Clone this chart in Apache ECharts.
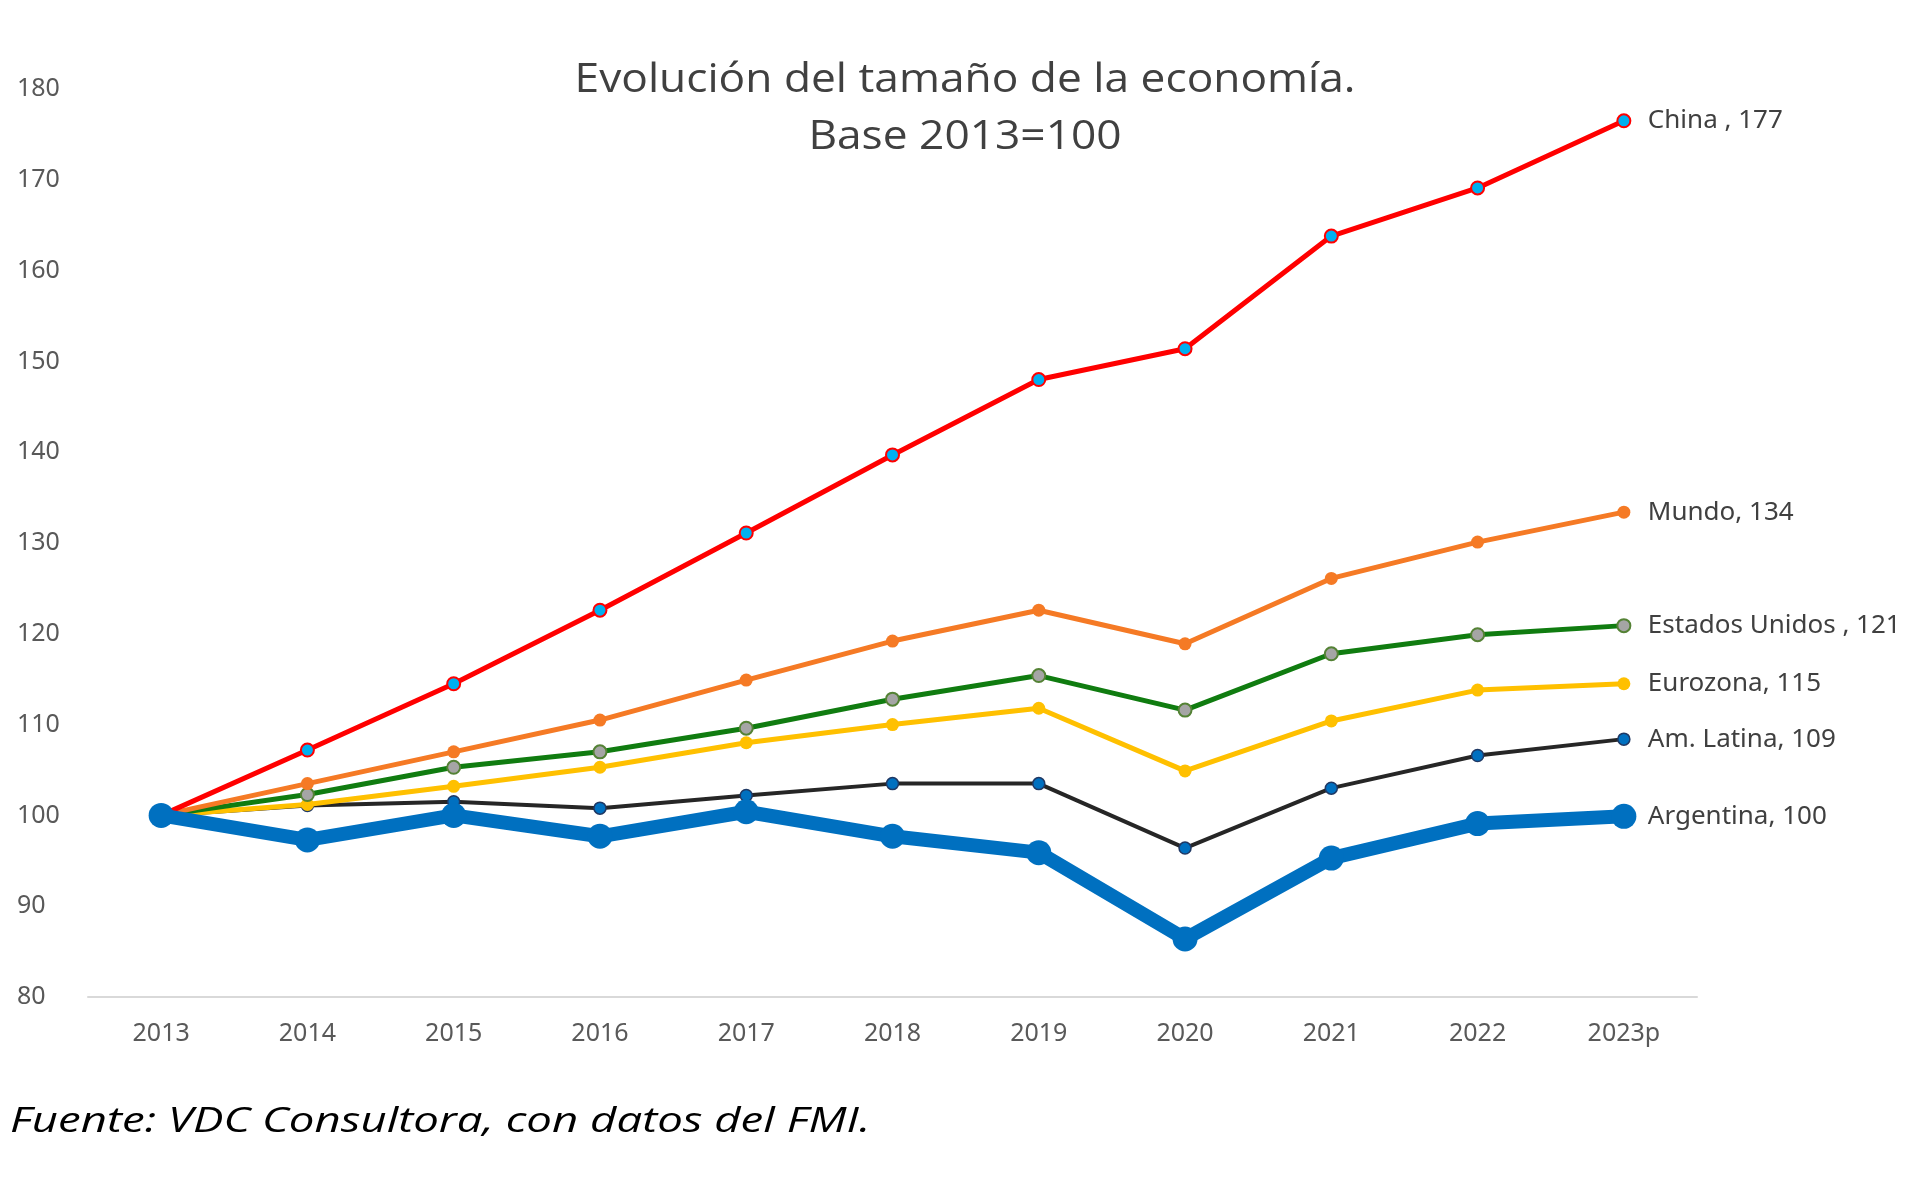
<!DOCTYPE html>
<html>
<head>
<meta charset="utf-8">
<script src="https://cdn.jsdelivr.net/npm/echarts@6/dist/echarts.min.js"></script>
<style>
html,body{margin:0;padding:0;background:#fff;}
#chart{width:1920px;height:1178px;}
</style>
</head>
<body>
<div id="chart"></div>
<script>
var categories = ['2013','2014','2015','2016','2017','2018','2019','2020','2021','2022','2023p'];
var china     = [100,107.2,114.5,122.6,131.1,139.7,148.0,151.4,163.8,169.1,176.5];
var mundo     = [100,103.5,107.0,110.5,114.9,119.2,122.6,118.9,126.1,130.1,133.4];
var eeuu      = [100,102.3,105.3,107.0,109.6,112.8,115.4,111.6,117.8,119.9,120.9];
var eurozona  = [100,101.2,103.2,105.3,108.0,110.0,111.8,104.9,110.4,113.8,114.5];
var amlatina  = [100,101.1,101.5,100.8,102.2,103.5,103.5,96.4,103.0,106.6,108.4];
var argentina = [100,97.3,100.0,97.7,100.4,97.7,95.9,86.4,95.3,99.1,99.9];
var endLabels = {
  china: 'China , 177',
  mundo: 'Mundo, 134',
  eeuu: 'Estados Unidos , 121',
  eurozona: 'Eurozona, 115',
  amlatina: 'Am. Latina, 109',
  argentina: 'Argentina, 100'
};
var titleLines = ['Evolución del tamaño de la economía.', 'Base 2013=100'];
var sourceText = 'Fuente: VDC Consultora, con datos del FMI.';

var labelFont = '"Noto Sans", "Open Sans", sans-serif';
function endLabel(txt){
  return {show:true, formatter: txt, distance: 24, color:'#404040', fontSize: 26, fontFamily: labelFont};
}
function mkSeries(name, data, lineColor, lineWidth, symbolSize, fill, border, borderW, labelTxt, z){
  return {
    name: name, type: 'line', data: data, z: z,
    symbol: 'circle', symbolSize: symbolSize, showAllSymbol: true,
    lineStyle: {color: lineColor, width: lineWidth},
    itemStyle: {color: fill, borderColor: border, borderWidth: borderW},
    endLabel: endLabel(labelTxt),
    emphasis: {disabled: true}
  };
}

var chart = echarts.init(document.getElementById('chart'), null, {renderer:'canvas'});
chart.setOption({
  animation: false,
  backgroundColor: '#ffffff',
  grid: {left: 88, right: 223, top: 89, bottom: 181, containLabel: false},
  xAxis: {
    type: 'category', data: categories, boundaryGap: true,
    axisLine: {show: true, lineStyle: {color: '#D9D9D9', width: 2}},
    axisTick: {show: false},
    axisLabel: {color: '#595959', fontSize: 25, fontFamily: labelFont, margin: 24}
  },
  yAxis: {
    type: 'value', min: 80, max: 180, interval: 10,
    axisLine: {show: false}, axisTick: {show: false},
    splitLine: {show: false},
    axisLabel: {color: '#595959', fontSize: 25, fontFamily: labelFont, align: 'left', margin: 71, padding: [5, 0, 0, 0]}
  },
  graphic: [
    {type:'text', x: 965, y: 80, scaleX: 1.08, style: {text: titleLines[0], fontSize: 41, fontFamily: '"Open Sans", sans-serif', fill: '#404040', textAlign: 'center', textVerticalAlign: 'middle'}},
    {type:'text', x: 965, y: 137, scaleX: 1.08, style: {text: titleLines[1], fontSize: 41, fontFamily: '"Open Sans", sans-serif', fill: '#404040', textAlign: 'center', textVerticalAlign: 'middle'}},
    {type:'text', x: 10, y: 1122, scaleX: 1.34, style: {text: sourceText, fontSize: 34, fontStyle: 'italic', fontFamily: '"Open Sans", sans-serif', fill: '#000000', textAlign: 'left', textVerticalAlign: 'middle'}}
  ],
  series: [
    mkSeries('Am. Latina', amlatina, '#262626', 4, 12, '#0070C0', '#1F3864', 1.5, endLabels.amlatina, 2),
    mkSeries('Eurozona', eurozona, '#FFC000', 5, 13, '#FFC000', '#FFC000', 0, endLabels.eurozona, 3),
    mkSeries('Estados Unidos', eeuu, '#107C10', 5, 13, '#A5A5A5', '#548235', 2, endLabels.eeuu, 4),
    mkSeries('Mundo', mundo, '#F57A25', 5, 13, '#F57A25', '#F57A25', 0, endLabels.mundo, 5),
    mkSeries('China', china, '#FF0000', 5, 13, '#00B0F0', '#FF0000', 2, endLabels.china, 6),
    mkSeries('Argentina', argentina, '#0070C0', 14, 25, '#0070C0', '#0070C0', 0, endLabels.argentina, 7)
  ]
});
</script>
</body>
</html>
